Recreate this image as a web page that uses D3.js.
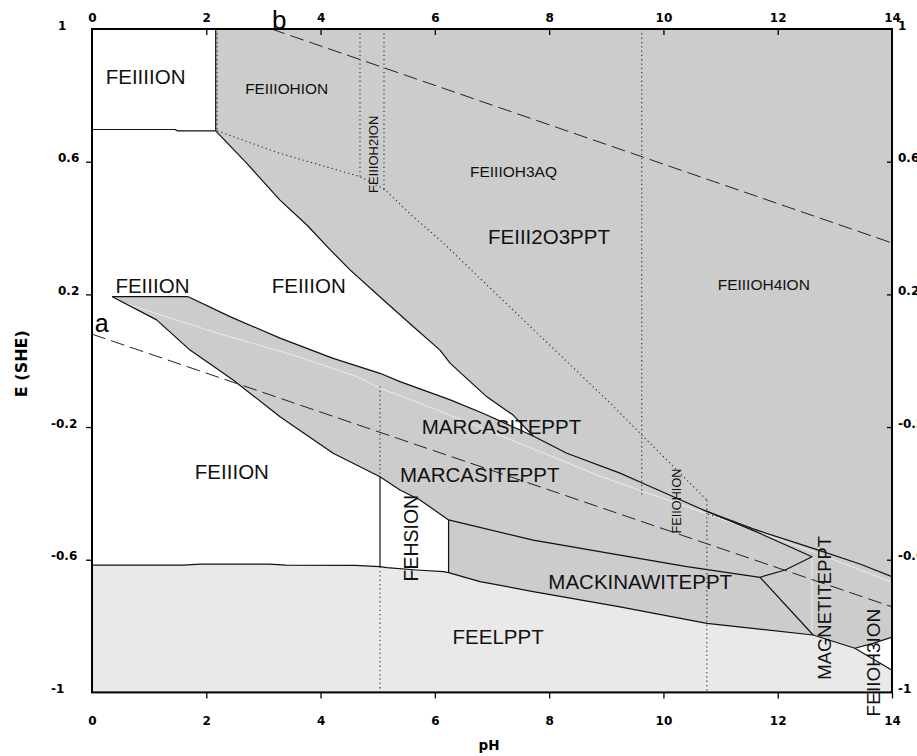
<!DOCTYPE html>
<html><head><meta charset="utf-8">
<script src="https://cdn.jsdelivr.net/npm/d3@7/dist/d3.min.js"></script>
<style>body{margin:0;background:#fff}</style>
</head><body>
<svg id="chart" width="917" height="756"></svg>
<script>
// ---------- data (pH, E in volts vs SHE) ----------
const phTicks = [0, 2, 4, 6, 8, 10, 12, 14];
const eTicks = [1, 0.6, 0.2, -0.2, -0.6, -1];
const eTickLabels = ["1", "0.6", "0.2", "-0.2", "-0.6", "-1"];

const feIIIIonBottom = [[0, 0.697], [1.45, 0.697], [1.5, 0.693], [2.165, 0.693]];
const feIIIIonSide = [[2.165, 1], [2.165, 0.693]];
const feLine = [[2.165, 0.693], [2.71, 0.595], [3.29, 0.484], [3.76, 0.409], [4.17, 0.334], [4.52, 0.273],
  [5.10, 0.183], [5.62, 0.103], [6.09, 0.032], [6.27, -0.008], [6.91, -0.109], [7.37, -0.164], [7.72, -0.227]];
const upperLine = [[1.685, 0.193], [2.415, 0.133], [3.29, 0.068], [4.22, 0.007], [5.04, -0.038], [5.39, -0.063],
  [6.27, -0.118], [6.85, -0.159], [7.72, -0.227], [8.31, -0.279], [9.24, -0.339], [9.65, -0.370],
  [10.70, -0.450], [11.57, -0.507], [12.62, -0.566], [13.44, -0.613], [14.0, -0.651]];
const marcTop = [[0.355, 0.193], [1.685, 0.193]];
const marcLower = [[0.355, 0.193], [1.13, 0.123], [1.715, 0.032], [2.47, -0.058], [3.29, -0.169], [4.22, -0.279],
  [5.04, -0.350], [5.39, -0.390], [5.74, -0.420], [6.24, -0.480]];
const mackTop = [[6.24, -0.480], [7.72, -0.541], [9.24, -0.586], [10.41, -0.621], [11.69, -0.653]];
const marcRight = [[10.70, -0.450], [11.63, -0.516], [12.60, -0.591], [12.13, -0.631], [11.69, -0.653]];
const magLine = [[11.69, -0.653], [12.62, -0.827]];
const feelTop = [[0, -0.616], [1.6, -0.616], [1.9, -0.613], [3.1, -0.613], [3.4, -0.616], [4.6, -0.617],
  [5.04, -0.621], [5.16, -0.624], [5.68, -0.631], [6.15, -0.636], [6.24, -0.639], [6.79, -0.666],
  [7.72, -0.696], [9.24, -0.742], [10.76, -0.792], [12.62, -0.827], [13.35, -0.867], [14, -0.933]];
const feIIOH3Curve = [[13.35, -0.867], [13.67, -0.852], [14, -0.833]];
const fehsLeft = [[5.04, -0.350], [5.04, -0.621]];
const fehsRight = [[6.24, -0.480], [6.24, -0.639]];
const faintLine = [[0.49, 0.178], [2.12, 0.087], [3.52, 0.017], [4.63, -0.048], [5.04, -0.083], [5.68, -0.124],
  [6.91, -0.209], [8.92, -0.35], [10.82, -0.465], [12.62, -0.576], [13.97, -0.666]];
const faintMag = [[12.60, -0.591], [12.60, -0.832]];

const waterA = [[0, 0.08], [14, -0.742]];
const waterB = [[3.14, 1.0], [14, 0.355]];

const dottedLines = [
  [[2.19, 1], [2.19, 0.693]],
  [[2.19, 0.693], [3.29, 0.625], [4.69, 0.555], [5.13, 0.515], [5.62, 0.434], [6.09, 0.364],
   [9.07, -0.128], [9.65, -0.229], [10.76, -0.420]],
  [[4.69, 1], [4.69, 0.555]],
  [[5.11, 1], [5.11, 0.515]],
  [[9.62, 1], [9.62, -0.405]],
  [[10.76, -0.420], [10.76, -1]],
  [[5.04, -0.078], [5.04, -0.350]],
  [[5.04, -0.621], [5.04, -1]],
  [[10.78, -0.463], [11.25, -0.485]]
];

const labels = [
  {t: "FEIIIION", ph: 0.24, e: 0.835, s: 20.5, r: 0},
  {t: "FEIIION", ph: 0.41, e: 0.204, s: 20.5, r: 0},
  {t: "FEIIION", ph: 3.145, e: 0.204, s: 20.5, r: 0},
  {t: "FEIIION", ph: 1.80, e: -0.357, s: 20.5, r: 0},
  {t: "FEIIIOHION", ph: 2.68, e: 0.805, s: 15.4, r: 0},
  {t: "FEIIIOH3AQ", ph: 6.615, e: 0.555, s: 15.5, r: 0},
  {t: "FEIII2O3PPT", ph: 6.93, e: 0.352, s: 20.5, r: 0},
  {t: "FEIIIOH4ION", ph: 10.95, e: 0.212, s: 15.5, r: 0},
  {t: "MARCASITEPPT", ph: 5.77, e: -0.221, s: 20.5, r: 0},
  {t: "MARCASITEPPT", ph: 5.39, e: -0.365, s: 20.5, r: 0},
  {t: "MACKINAWITEPPT", ph: 7.986, e: -0.688, s: 20.5, r: 0},
  {t: "FEELPPT", ph: 6.31, e: -0.854, s: 20.5, r: 0},
  {t: "FEIIIOH2ION", ph: 5.006, e: 0.622, s: 13, r: 1},
  {t: "FEHSION", ph: 5.705, e: -0.535, s: 19.5, r: 1},
  {t: "FEIIOHION", ph: 10.31, e: -0.423, s: 12.7, r: 1},
  {t: "MAGNETITEPPT", ph: 12.935, e: -0.745, s: 18.5, r: 1},
  {t: "FEIIOH3ION", ph: 13.79, e: -0.91, s: 19, r: 1}
];

// ---------- scales ----------
const x = d3.scaleLinear().domain([0, 14]).range([92, 892]);
const y = d3.scaleLinear().domain([-1, 1]).range([692.4, 29]);
const line = d3.line().x(d => x(d[0])).y(d => y(d[1]));
const svg = d3.select("#chart");

svg.append("clipPath").attr("id", "clip").append("rect")
  .attr("x", x(0)).attr("y", y(1)).attr("width", x(14) - x(0)).attr("height", y(-1) - y(1));
const plot = svg.append("g").attr("clip-path", "url(#clip)");

// ---------- fills ----------
const seg = (arr, a, b) => arr.filter(p => p[0] >= a && p[0] <= b);
const darkPoly = [[2.165, 1], [14, 1], [14, -0.833]]
  .concat(feIIOH3Curve.slice().reverse().slice(1))
  .concat(seg(feelTop, 6.24, 12.62).reverse())
  .concat(marcLower.slice().reverse())
  .concat(upperLine.filter(p => p[0] <= 7.72))
  .concat(feLine.slice().reverse().slice(1));
const feelPoly = feelTop.concat([[14, -1], [0, -1]]);

plot.append("path").attr("d", line(feelPoly) + "Z").attr("fill", "#e9e9e9");
plot.append("path").attr("d", line(darkPoly) + "Z").attr("fill", "#cccccc");

[faintLine, faintMag].forEach(l => plot.append("path").attr("d", line(l))
  .attr("fill", "none").attr("stroke", "#ebebeb").attr("stroke-width", 1));

// ---------- solid boundaries ----------
[feIIIIonBottom, feIIIIonSide, feLine, upperLine, marcTop, marcLower, mackTop, marcRight, magLine,
 feelTop, feIIOH3Curve, fehsLeft, fehsRight].forEach(l =>
  plot.append("path").attr("d", line(l)).attr("fill", "none")
    .attr("stroke", "#111").attr("stroke-width", 1.2).attr("stroke-linejoin", "round"));

// ---------- water lines ----------
[waterA, waterB].forEach(l => plot.append("path").attr("d", line(l)).attr("fill", "none")
  .attr("stroke", "#222").attr("stroke-width", 1).attr("stroke-dasharray", "14,6"));

// ---------- dotted lines ----------
dottedLines.forEach(l => plot.append("path").attr("d", line(l)).attr("fill", "none")
  .attr("stroke", "#333").attr("stroke-width", 1.1).attr("stroke-dasharray", "1.3,3"));

// ---------- region labels ----------
labels.forEach(d => {
  const t = svg.append("text").text(d.t)
    .attr("font-family", "Liberation Sans, Arial, sans-serif")
    .attr("font-size", d.s).attr("fill", "#111");
  if (d.r) {
    t.attr("text-anchor", "middle")
     .attr("transform", `translate(${x(d.ph)},${y(d.e)}) rotate(-90)`);
  } else {
    t.attr("x", x(d.ph)).attr("y", y(d.e));
  }
});
svg.append("text").text("a").attr("x", x(0.05)).attr("y", y(0.086))
  .attr("font-family", "Liberation Sans, Arial, sans-serif").attr("font-size", 25);
svg.append("text").text("b").attr("x", x(3.15)).attr("y", y(1.0))
  .attr("font-family", "Liberation Sans, Arial, sans-serif").attr("font-size", 26);

// ---------- axes ----------
const tickFont = g => g.selectAll("text")
  .attr("font-family", "DejaVu Sans, sans-serif").attr("font-weight", "bold")
  .attr("font-size", 12).attr("fill", "#000");

const gb = svg.append("g").attr("transform", `translate(0,${y(-1)})`)
  .call(d3.axisBottom(x).tickValues(phTicks).tickSize(6).tickFormat(d3.format("d")));
gb.select(".domain").remove();
gb.call(tickFont).selectAll("text").attr("y", 33).attr("dy", 0);
gb.selectAll(".tick").filter(d => d === 0).select("line").remove();

const gt = svg.append("g").attr("transform", `translate(0,${y(1)})`)
  .call(d3.axisTop(x).tickValues(phTicks).tickSize(-6).tickFormat(d3.format("d")));
gt.select(".domain").remove();
gt.call(tickFont).selectAll("text").attr("y", -7).attr("dy", 0);
gt.selectAll(".tick").filter(d => d === 0 || d === 14).select("line").remove();

const fmtE = d => eTickLabels[eTicks.indexOf(d)];
const gl = svg.append("g").attr("transform", `translate(${x(0)},0)`)
  .call(d3.axisLeft(y).tickValues(eTicks).tickSize(6).tickFormat(fmtE));
gl.select(".domain").remove();
gl.call(tickFont).selectAll("text").attr("text-anchor", "start")
  .attr("x", d => d < 0 ? -41 : -34).attr("dy", 0);
gl.selectAll(".tick").filter(d => d === 1 || d === -1).select("line").remove();

const gr = svg.append("g").attr("transform", `translate(${x(14)},0)`)
  .call(d3.axisRight(y).tickValues(eTicks).tickSize(-5).tickFormat(fmtE));
gr.select(".domain").remove();
gr.call(tickFont).selectAll("text").attr("text-anchor", "start").attr("x", 6).attr("dy", 0);
gr.selectAll(".tick").filter(d => d === 1 || d === -1).select("line").remove();
svg.selectAll(".tick line").attr("stroke", "#000").attr("stroke-width", 1.3);

// frame
svg.append("rect").attr("x", x(0)).attr("y", y(1)).attr("width", x(14) - x(0)).attr("height", y(-1) - y(1))
  .attr("fill", "none").attr("stroke", "#000").attr("stroke-width", 2);

// axis titles
svg.append("text").text("pH").attr("x", (x(0) + x(14)) / 2 - 3).attr("y", 750)
  .attr("text-anchor", "middle").attr("font-family", "DejaVu Sans, sans-serif")
  .attr("font-weight", "bold").attr("font-size", 13.5);
svg.append("text").text("E (SHE)")
  .attr("transform", `translate(27,${(y(1) + y(-1)) / 2 + 3}) rotate(-90)`)
  .attr("text-anchor", "middle").attr("font-family", "DejaVu Sans, sans-serif")
  .attr("font-weight", "bold").attr("font-size", 16);
</script>
</body></html>
